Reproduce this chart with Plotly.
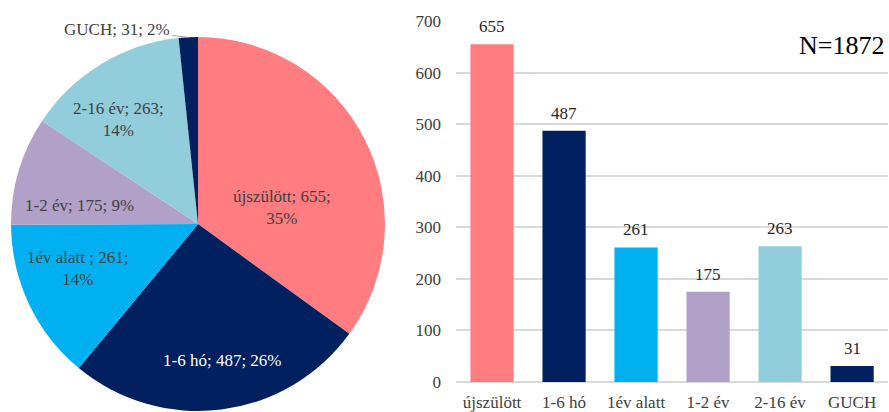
import math
import plotly.graph_objects as go

# Age groups and patient counts
categories = ["újszülött", "1-6 hó", "1év alatt", "1-2 év", "2-16 év", "GUCH"]
counts = [655, 487, 261, 175, 263, 31]
total_label = "N=1872"

colors = ["#FF7C80", "#002060", "#00B0F0", "#B1A0C7", "#92CDDC", "#002060"]

# Pie label styling: text layout, colour, distance from centre and angular nudge
label_formats = [
    "{c}; {n};<br>{p}%",
    "{c}; {n}; {p}%",
    "{c} ; {n};<br>{p}%",
    "{c}; {n}; {p}%",
    "{c}; {n};<br>{p}%",
    "{c}; {n}; {p}%",
]
label_colors = ["#404040", "#FFFFFF", "#404040", "#404040", "#404040", "#404040"]
label_radius = [0.46, 0.74, 0.685, 0.64, 0.70, None]   # None -> outside label with leader line
label_shift_deg = [16, -3, 5, -7.5, -6, 0]

FONT = "Liberation Serif"
W, H = 889, 412
PIE_X = [0.0124, 0.433]
PIE_Y = [0.0024, 0.910]

fig = go.Figure()

fig.add_trace(go.Pie(
    labels=categories,
    values=counts,
    sort=False,
    direction="clockwise",
    rotation=0,
    marker=dict(colors=colors, line=dict(color="white", width=0)),
    textinfo="none",
    domain=dict(x=PIE_X, y=PIE_Y),
    showlegend=False,
    hoverinfo="label+value+percent",
))

fig.add_trace(go.Bar(
    x=categories,
    y=counts,
    marker=dict(color=colors, line=dict(width=0)),
    xaxis="x",
    yaxis="y",
    showlegend=False,
))

# Pie data labels placed around each slice's mid-angle
total = sum(counts)
cx = (PIE_X[0] + PIE_X[1]) / 2
cy = (PIE_Y[0] + PIE_Y[1]) / 2
radius_px = min((PIE_X[1] - PIE_X[0]) * W, (PIE_Y[1] - PIE_Y[0]) * H) / 2

annotations = []
cum = 0
for cat, n, fmt, col, rf, sh in zip(categories, counts, label_formats, label_colors,
                                     label_radius, label_shift_deg):
    mid = (cum + n / 2) / total * 2 * math.pi
    cum += n
    text = fmt.format(c=cat, n=n, p=round(n / total * 100))
    if rf is None:
        edge_x = cx + radius_px * math.sin(mid) / W
        edge_y = cy + radius_px * math.cos(mid) / H
        annotations.append(dict(
            text=text, xref="paper", yref="paper", x=edge_x, y=edge_y,
            showarrow=True, arrowhead=0, arrowwidth=1, arrowcolor="#A6A6A6",
            ax=-71, ay=-8, standoff=0,
            font=dict(family=FONT, size=17, color=col),
        ))
    else:
        a = mid + math.radians(sh)
        r = radius_px * rf
        annotations.append(dict(
            text=text, xref="paper", yref="paper",
            x=cx + r * math.sin(a) / W, y=cy + r * math.cos(a) / H,
            xanchor="center", yanchor="middle", showarrow=False, align="center",
            font=dict(family=FONT, size=17, color=col),
        ))

# Value labels above the bars
for cat, n in zip(categories, counts):
    annotations.append(dict(
        text=str(n), xref="x", yref="y", x=cat, y=n,
        xanchor="center", yanchor="bottom", yshift=6, showarrow=False,
        font=dict(family=FONT, size=17, color="#262626"),
    ))

annotations.append(dict(
    text=total_label,
    xref="paper", yref="paper",
    x=0.997, y=0.89,
    xanchor="right", yanchor="middle",
    showarrow=False,
    font=dict(family=FONT, size=26, color="#000000"),
))

fig.update_layout(
    width=W,
    height=H,
    margin=dict(l=0, r=0, t=0, b=0),
    paper_bgcolor="white",
    plot_bgcolor="white",
    font=dict(family=FONT, color="#404040"),
    bargap=0.4,
    xaxis=dict(
        domain=[0.513, 0.999],
        showgrid=False,
        showline=False,
        ticks="",
        automargin=False,
        ticklabelstandoff=8,
        tickfont=dict(family=FONT, size=17, color="#404040"),
    ),
    yaxis=dict(
        domain=[0.0728, 0.949],
        range=[0, 700],
        dtick=100,
        showgrid=True,
        gridcolor="#D9D9D9",
        gridwidth=2,
        zeroline=True,
        zerolinecolor="#D9D9D9",
        zerolinewidth=2,
        showline=False,
        ticks="",
        automargin=False,
        ticklabelstandoff=14,
        tickfont=dict(family=FONT, size=17, color="#404040"),
    ),
    annotations=annotations,
)

fig.write_html("out.html")
